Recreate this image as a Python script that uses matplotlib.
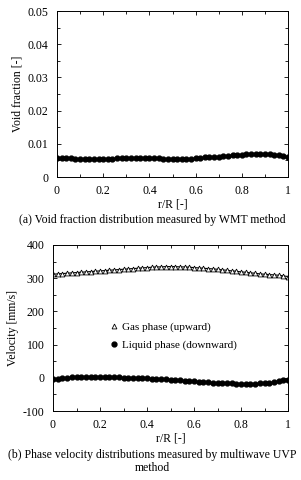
import numpy as np
import matplotlib.pyplot as plt
from matplotlib.ticker import MultipleLocator, FuncFormatter

plt.rcParams['font.family'] = ['Liberation Serif', 'DejaVu Serif']
plt.rcParams['font.size'] = 8

r = np.round(np.arange(0, 1.0001, 0.02), 2)

void = [0.0057, 0.0057, 0.0056, 0.0056, 0.0055, 0.0055, 0.0054, 0.0054, 0.0054, 0.0054,
        0.0054, 0.0054, 0.0055, 0.0056, 0.0057, 0.0057, 0.0057, 0.0057, 0.0057, 0.0056,
        0.0056, 0.0056, 0.0056, 0.0055, 0.0055, 0.0055, 0.0055, 0.0055, 0.0055, 0.0055,
        0.0056, 0.0058, 0.0059, 0.0060, 0.0060, 0.0061, 0.0062, 0.0063, 0.0065, 0.0066,
        0.0067, 0.0068, 0.0070, 0.0070, 0.0070, 0.0069, 0.0068, 0.0067, 0.0066, 0.0064,
        0.0061]

gas = [312, 313, 314, 315, 316, 317, 318, 319, 320, 321,
       322, 323, 324, 325, 326, 327, 328, 329, 330, 331,
       332, 333, 334, 334, 335, 335, 335, 334, 334, 333,
       332, 331, 330, 329, 328, 327, 325, 324, 322, 321,
       319, 318, 316, 315, 313, 312, 311, 310, 309, 307,
       305]

liquid = [-5, -3, -1, 0, 1, 2, 3, 3, 3, 3,
          3, 2, 2, 1, 1, 0, 0, -1, -1, -2,
          -2, -3, -3, -4, -5, -6, -7, -8, -9, -10,
          -11, -12, -13, -14, -15, -16, -16, -17, -17, -18,
          -18, -18, -18, -18, -17, -16, -15, -13, -10, -7,
          -6]

fig = plt.figure(figsize=(3.01, 4.8), dpi=100)
W, H = 301, 480
ax1 = fig.add_axes([57 / W, 1 - 177 / H, 231 / W, 166 / H])
ax2 = fig.add_axes([53 / W, 1 - 411 / H, 235 / W, 166 / H])

fmt = FuncFormatter(lambda v, p: '%g' % round(v, 4))

def style(ax):
    ax.set_xlim(0, 1)
    ax.xaxis.set_major_locator(MultipleLocator(0.2))
    ax.xaxis.set_minor_locator(MultipleLocator(0.1))
    ax.xaxis.set_major_formatter(fmt)
    ax.yaxis.set_major_formatter(fmt)
    ax.tick_params(which='both', direction='in', top=True, right=True, labelsize=8.5)
    ax.tick_params(which='major', length=3, width=0.6)
    ax.tick_params(which='minor', length=2, width=0.6)
    ax.tick_params(axis='x', pad=6)
    ax.tick_params(axis='y', pad=6)
    for s in ax.spines.values():
        s.set_linewidth(0.7)
    ax.set_xlabel('r/R [-]', fontsize=8.5, labelpad=1)

ax1.plot(r, void, 'o', color='black', ms=3.5)
ax1.set_ylim(0, 0.05)
ax1.yaxis.set_major_locator(MultipleLocator(0.01))
ax1.yaxis.set_minor_locator(MultipleLocator(0.005))
style(ax1)
ax1.set_ylabel('Void fraction [-]', fontsize=8.5, labelpad=3)

ax2.plot(r, gas, '-', color='black', lw=0.8)
ax2.plot(r, gas, '^', color='black', mfc='white', mew=0.6, ms=3.5,
         label='Gas phase (upward)')
ax2.plot(r, liquid, 'o', color='black', ms=3.5, label='Liquid phase (downward)')
ax2.set_ylim(-100, 400)
ax2.yaxis.set_major_locator(MultipleLocator(100))
ax2.yaxis.set_minor_locator(MultipleLocator(50))
style(ax2)
ax2.set_ylabel('Velocity [mm/s]', fontsize=8.5, labelpad=3)
ax2.legend(frameon=False, loc='center left',
           bbox_to_anchor=(0.2, 0.45), fontsize=8, handlelength=0.8,
           handletextpad=0.3, labelspacing=0.7)

fig.text(152 / W, 1 - 220 / H, '(a) Void fraction distribution measured by WMT method',
         ha='center', va='center', fontsize=8.5)
fig.text(152 / W, 1 - 455 / H, '(b) Phase velocity distributions measured by multiwave UVP',
         ha='center', va='center', fontsize=8.5)
fig.text(152 / W, 1 - 468 / H, 'method', ha='center', va='center', fontsize=8.5)

fig.savefig('out.png', dpi=100)
